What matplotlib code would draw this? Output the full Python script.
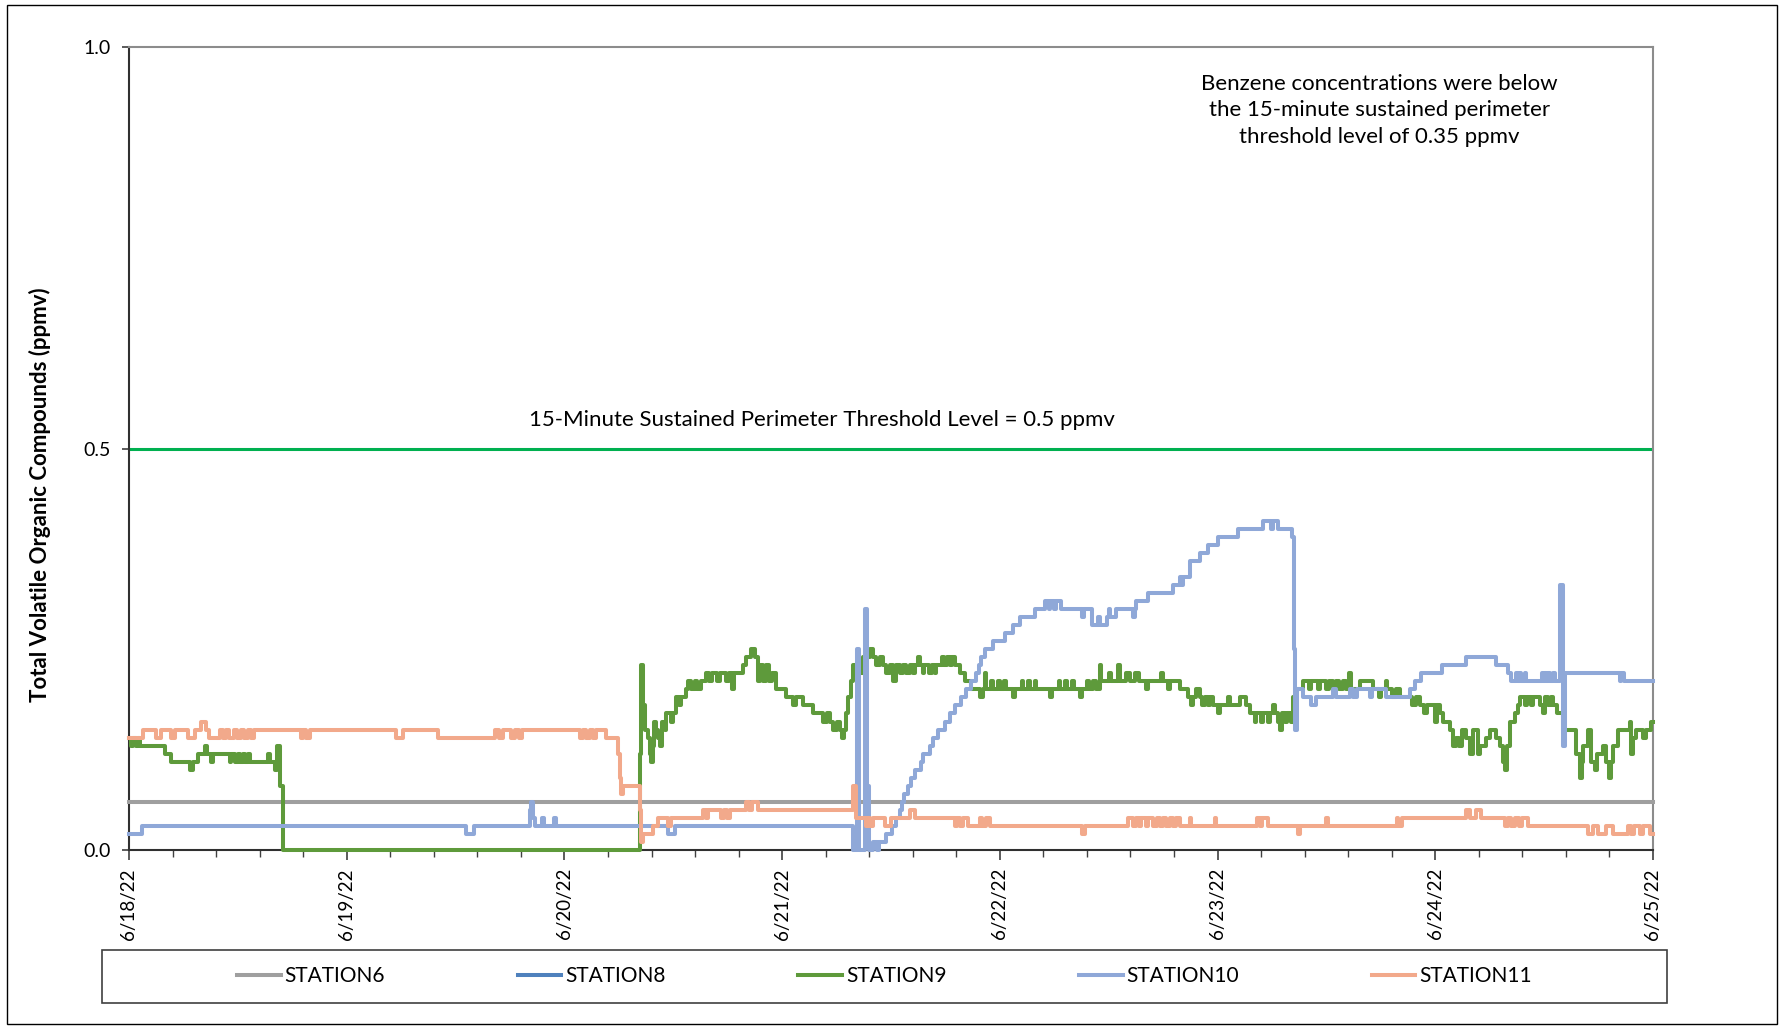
import numpy as np
import matplotlib
matplotlib.use("Agg")
import matplotlib.pyplot as plt
from matplotlib.patches import Rectangle

# readings: (days since 6/18/22 00:00, ppmv), each value holds until the next reading
station6 = [(0.0, 0.06), (7.0, 0.06)]
station8 = []

station9 = [
    (0.000, 0.14), (0.010, 0.13), (0.020, 0.14), (0.030, 0.13), (0.040, 0.14), (0.050, 0.13),
    (0.164, 0.12), (0.195, 0.11), (0.280, 0.10), (0.292, 0.11), (0.317, 0.12), (0.350, 0.13),
    (0.360, 0.12), (0.378, 0.11), (0.388, 0.12), (0.462, 0.11), (0.470, 0.12), (0.485, 0.11),
    (0.500, 0.12), (0.508, 0.11), (0.525, 0.12), (0.532, 0.11), (0.548, 0.12), (0.556, 0.11),
    (0.640, 0.12), (0.648, 0.11), (0.672, 0.10), (0.682, 0.13), (0.695, 0.08), (0.708, 0.00),
    (2.346, 0.12), (2.352, 0.23), (2.362, 0.18), (2.369, 0.15), (2.384, 0.14), (2.392, 0.12),
    (2.399, 0.11), (2.405, 0.13), (2.410, 0.16), (2.422, 0.15), (2.430, 0.14), (2.438, 0.13),
    (2.446, 0.16), (2.461, 0.15), (2.468, 0.17), (2.490, 0.16), (2.499, 0.17), (2.514, 0.19),
    (2.525, 0.18), (2.537, 0.19), (2.560, 0.20), (2.568, 0.21), (2.583, 0.20), (2.598, 0.21),
    (2.610, 0.20), (2.629, 0.21), (2.652, 0.22), (2.665, 0.21), (2.680, 0.22), (2.700, 0.21),
    (2.715, 0.22), (2.740, 0.21), (2.755, 0.22), (2.770, 0.20), (2.778, 0.22), (2.820, 0.23),
    (2.836, 0.24), (2.855, 0.25), (2.875, 0.24), (2.889, 0.21), (2.900, 0.23), (2.912, 0.21),
    (2.925, 0.23), (2.940, 0.21), (2.955, 0.22), (2.974, 0.20), (3.020, 0.19), (3.050, 0.18),
    (3.065, 0.19), (3.095, 0.18), (3.142, 0.17), (3.188, 0.16), (3.205, 0.17), (3.220, 0.16),
    (3.234, 0.15), (3.250, 0.16), (3.264, 0.15), (3.275, 0.14), (3.285, 0.15), (3.295, 0.17),
    (3.303, 0.19), (3.315, 0.21), (3.326, 0.23), (3.356, 0.22), (3.372, 0.24), (3.402, 0.25),
    (3.418, 0.24), (3.433, 0.23), (3.450, 0.24), (3.465, 0.23), (3.479, 0.22), (3.495, 0.23),
    (3.510, 0.21), (3.525, 0.23), (3.540, 0.22), (3.555, 0.23), (3.570, 0.22), (3.586, 0.23),
    (3.602, 0.22), (3.610, 0.23), (3.624, 0.24), (3.632, 0.23), (3.645, 0.22), (3.652, 0.23),
    (3.675, 0.22), (3.690, 0.23), (3.700, 0.22), (3.708, 0.23), (3.732, 0.24), (3.745, 0.23),
    (3.755, 0.24), (3.770, 0.23), (3.780, 0.24), (3.793, 0.23), (3.816, 0.22), (3.839, 0.21),
    (3.869, 0.20), (3.910, 0.19), (3.922, 0.20), (3.930, 0.22), (3.938, 0.20), (3.960, 0.21),
    (3.968, 0.20), (3.990, 0.21), (4.000, 0.20), (4.020, 0.21), (4.028, 0.20), (4.060, 0.19),
    (4.070, 0.20), (4.100, 0.21), (4.108, 0.20), (4.130, 0.21), (4.138, 0.20), (4.160, 0.21),
    (4.168, 0.20), (4.229, 0.19), (4.240, 0.20), (4.270, 0.21), (4.278, 0.20), (4.300, 0.21),
    (4.310, 0.20), (4.330, 0.21), (4.340, 0.20), (4.366, 0.19), (4.376, 0.20), (4.400, 0.21),
    (4.410, 0.20), (4.430, 0.21), (4.440, 0.20), (4.458, 0.23), (4.466, 0.21), (4.500, 0.22),
    (4.510, 0.21), (4.543, 0.23), (4.551, 0.21), (4.580, 0.22), (4.600, 0.21), (4.620, 0.22),
    (4.640, 0.21), (4.673, 0.20), (4.681, 0.21), (4.740, 0.22), (4.750, 0.21), (4.773, 0.20),
    (4.781, 0.21), (4.827, 0.20), (4.865, 0.19), (4.880, 0.18), (4.888, 0.19), (4.903, 0.20),
    (4.918, 0.19), (4.930, 0.18), (4.940, 0.19), (4.955, 0.18), (4.965, 0.19), (4.980, 0.18),
    (5.002, 0.17), (5.010, 0.18), (5.048, 0.19), (5.055, 0.18), (5.102, 0.19), (5.132, 0.18),
    (5.148, 0.17), (5.170, 0.16), (5.178, 0.17), (5.200, 0.16), (5.210, 0.17), (5.230, 0.16),
    (5.240, 0.17), (5.255, 0.18), (5.265, 0.17), (5.278, 0.16), (5.286, 0.15), (5.295, 0.17),
    (5.310, 0.16), (5.320, 0.17), (5.335, 0.16), (5.347, 0.19), (5.362, 0.20), (5.393, 0.21),
    (5.420, 0.20), (5.430, 0.21), (5.460, 0.20), (5.470, 0.21), (5.500, 0.20), (5.510, 0.21),
    (5.531, 0.20), (5.545, 0.21), (5.560, 0.20), (5.575, 0.21), (5.590, 0.20), (5.605, 0.22),
    (5.611, 0.20), (5.653, 0.21), (5.715, 0.20), (5.740, 0.19), (5.750, 0.20), (5.773, 0.21),
    (5.780, 0.20), (5.800, 0.19), (5.820, 0.20), (5.840, 0.19), (5.891, 0.18), (5.910, 0.19),
    (5.929, 0.18), (5.950, 0.17), (5.960, 0.18), (5.998, 0.16), (6.010, 0.18), (6.021, 0.17),
    (6.036, 0.16), (6.067, 0.15), (6.082, 0.13), (6.095, 0.14), (6.110, 0.13), (6.125, 0.15),
    (6.140, 0.14), (6.159, 0.12), (6.174, 0.15), (6.197, 0.12), (6.205, 0.13), (6.235, 0.14),
    (6.251, 0.15), (6.281, 0.14), (6.297, 0.13), (6.310, 0.11), (6.320, 0.10), (6.330, 0.13),
    (6.343, 0.16), (6.366, 0.17), (6.380, 0.18), (6.388, 0.19), (6.410, 0.18), (6.420, 0.19),
    (6.440, 0.18), (6.450, 0.19), (6.480, 0.18), (6.495, 0.17), (6.503, 0.19), (6.520, 0.18),
    (6.530, 0.19), (6.541, 0.18), (6.557, 0.17), (6.587, 0.15), (6.648, 0.12), (6.664, 0.09),
    (6.672, 0.11), (6.679, 0.13), (6.702, 0.15), (6.717, 0.11), (6.733, 0.10), (6.745, 0.12),
    (6.771, 0.13), (6.786, 0.11), (6.798, 0.09), (6.808, 0.11), (6.817, 0.13), (6.840, 0.15),
    (6.893, 0.16), (6.900, 0.12), (6.909, 0.14), (6.924, 0.15), (6.955, 0.14), (6.970, 0.15),
    (6.993, 0.16), (7.000, 0.16),
]

station10 = [
    (0.000, 0.02), (0.061, 0.03), (1.547, 0.02), (1.583, 0.03), (1.840, 0.05), (1.848, 0.06),
    (1.856, 0.04), (1.865, 0.03), (1.895, 0.04), (1.905, 0.03), (1.953, 0.04), (1.963, 0.03),
    (2.475, 0.02), (2.507, 0.03), (3.326, 0.00), (3.345, 0.25), (3.352, 0.00), (3.380, 0.30),
    (3.390, 0.08), (3.397, 0.00), (3.417, 0.01), (3.436, 0.00), (3.445, 0.01), (3.479, 0.02),
    (3.505, 0.03), (3.525, 0.04), (3.540, 0.05), (3.549, 0.06), (3.559, 0.07), (3.579, 0.08),
    (3.594, 0.09), (3.609, 0.10), (3.640, 0.11), (3.648, 0.12), (3.678, 0.13), (3.693, 0.14),
    (3.716, 0.15), (3.747, 0.16), (3.770, 0.17), (3.793, 0.18), (3.823, 0.19), (3.846, 0.20),
    (3.869, 0.21), (3.892, 0.22), (3.905, 0.23), (3.915, 0.24), (3.930, 0.25), (3.968, 0.26),
    (4.022, 0.27), (4.060, 0.28), (4.091, 0.29), (4.160, 0.30), (4.206, 0.31), (4.225, 0.30),
    (4.232, 0.31), (4.250, 0.30), (4.258, 0.31), (4.283, 0.30), (4.375, 0.29), (4.385, 0.30),
    (4.421, 0.28), (4.450, 0.29), (4.460, 0.28), (4.490, 0.29), (4.500, 0.30), (4.508, 0.29),
    (4.535, 0.30), (4.610, 0.29), (4.620, 0.30), (4.627, 0.31), (4.681, 0.32), (4.796, 0.33),
    (4.827, 0.34), (4.835, 0.33), (4.842, 0.34), (4.873, 0.36), (4.918, 0.37), (4.957, 0.38),
    (5.002, 0.39), (5.094, 0.40), (5.209, 0.41), (5.245, 0.40), (5.255, 0.41), (5.278, 0.40),
    (5.340, 0.39), (5.352, 0.25), (5.357, 0.15), (5.366, 0.20), (5.393, 0.19), (5.431, 0.18),
    (5.454, 0.19), (5.531, 0.20), (5.546, 0.19), (5.607, 0.20), (5.620, 0.19), (5.640, 0.20),
    (5.700, 0.19), (5.710, 0.20), (5.775, 0.19), (5.883, 0.20), (5.906, 0.21), (5.936, 0.22),
    (6.029, 0.23), (6.143, 0.24), (6.281, 0.23), (6.335, 0.22), (6.350, 0.21), (6.373, 0.22),
    (6.380, 0.21), (6.388, 0.22), (6.395, 0.21), (6.411, 0.22), (6.418, 0.21), (6.488, 0.22),
    (6.495, 0.21), (6.503, 0.22), (6.510, 0.21), (6.518, 0.22), (6.525, 0.21), (6.541, 0.22),
    (6.548, 0.21), (6.575, 0.33), (6.585, 0.13), (6.595, 0.22), (6.848, 0.21), (6.855, 0.22),
    (6.866, 0.21), (7.000, 0.21),
]

station11 = [
    (0.000, 0.14), (0.065, 0.15), (0.126, 0.14), (0.149, 0.15), (0.195, 0.14), (0.210, 0.15),
    (0.271, 0.14), (0.302, 0.15), (0.333, 0.16), (0.355, 0.15), (0.367, 0.14), (0.417, 0.15),
    (0.430, 0.14), (0.445, 0.15), (0.460, 0.14), (0.480, 0.15), (0.495, 0.14), (0.515, 0.15),
    (0.530, 0.14), (0.545, 0.15), (0.560, 0.14), (0.575, 0.15), (0.792, 0.14), (0.800, 0.15),
    (0.815, 0.14), (0.830, 0.15), (1.228, 0.14), (1.259, 0.15), (1.420, 0.14), (1.680, 0.15),
    (1.700, 0.14), (1.716, 0.15), (1.756, 0.14), (1.772, 0.15), (1.790, 0.14), (1.805, 0.15),
    (2.070, 0.14), (2.085, 0.15), (2.100, 0.14), (2.116, 0.15), (2.131, 0.14), (2.147, 0.15),
    (2.193, 0.14), (2.246, 0.12), (2.255, 0.09), (2.262, 0.07), (2.270, 0.08), (2.346, 0.05),
    (2.352, 0.01), (2.361, 0.02), (2.407, 0.03), (2.430, 0.04), (2.476, 0.03), (2.491, 0.04),
    (2.637, 0.05), (2.650, 0.04), (2.660, 0.05), (2.721, 0.04), (2.735, 0.05), (2.745, 0.04),
    (2.759, 0.05), (2.836, 0.06), (2.850, 0.05), (2.860, 0.06), (2.889, 0.05), (3.326, 0.08),
    (3.340, 0.04), (3.387, 0.03), (3.395, 0.04), (3.405, 0.03), (3.417, 0.04), (3.471, 0.03),
    (3.502, 0.04), (3.586, 0.05), (3.609, 0.04), (3.793, 0.03), (3.805, 0.04), (3.818, 0.03),
    (3.830, 0.04), (3.854, 0.03), (3.908, 0.04), (3.920, 0.03), (3.935, 0.04), (3.954, 0.03),
    (4.375, 0.02), (4.390, 0.03), (4.589, 0.04), (4.612, 0.03), (4.625, 0.04), (4.640, 0.03),
    (4.650, 0.04), (4.670, 0.03), (4.681, 0.04), (4.704, 0.03), (4.720, 0.04), (4.734, 0.03),
    (4.750, 0.04), (4.765, 0.03), (4.780, 0.04), (4.795, 0.03), (4.810, 0.04), (4.827, 0.03),
    (4.873, 0.04), (4.880, 0.03), (4.987, 0.04), (4.995, 0.03), (5.179, 0.04), (5.195, 0.03),
    (5.205, 0.04), (5.232, 0.03), (5.370, 0.02), (5.378, 0.03), (5.500, 0.04), (5.508, 0.03),
    (5.822, 0.04), (5.830, 0.03), (5.845, 0.04), (6.143, 0.05), (6.159, 0.04), (6.189, 0.05),
    (6.212, 0.04), (6.320, 0.03), (6.335, 0.04), (6.350, 0.03), (6.365, 0.04), (6.385, 0.03),
    (6.400, 0.04), (6.427, 0.03), (6.702, 0.02), (6.725, 0.03), (6.748, 0.02), (6.786, 0.03),
    (6.817, 0.02), (6.886, 0.03), (6.900, 0.02), (6.915, 0.03), (6.940, 0.02), (6.955, 0.03),
    (6.985, 0.02), (7.000, 0.02),
]

station_names = ["STATION6", "STATION8", "STATION9", "STATION10", "STATION11"]
station_colors = ["#9f9f9f", "#4f81bd", "#5e9a3b", "#8fa8d8", "#f2a98b"]
date_labels = ["6/18/22", "6/19/22", "6/20/22", "6/21/22", "6/22/22", "6/23/22", "6/24/22", "6/25/22"]

threshold = 0.5
threshold_text = "15-Minute Sustained Perimeter Threshold Level = 0.5 ppmv"
benzene_text = "Benzene concentrations were below\nthe 15-minute sustained perimeter\nthreshold level of 0.35 ppmv"

plt.rcParams['font.family'] = ['Lato', 'DejaVu Sans']

W, H = 1784, 1026
fig = plt.figure(figsize=(W / 100, H / 100), dpi=100)
ax = fig.add_axes([129 / W, 1 - 850 / H, 1524 / W, 803 / H])

# outer chart border and legend box
fig.patches.append(Rectangle((7 / W, 2 / H), 1770 / W, 1019 / H, transform=fig.transFigure,
                             fill=False, edgecolor='black', linewidth=1.0))
fig.patches.append(Rectangle((102 / W, 1 - 1003 / H), 1565 / W, 53 / H, transform=fig.transFigure,
                             fill=False, edgecolor='#404040', linewidth=1.2))

handles = []
for name, color, pts in zip(station_names, station_colors,
                            [station6, station8, station9, station10, station11]):
    days = [p[0] for p in pts]
    vals = [p[1] for p in pts]
    line, = ax.plot(days, vals, color=color, linewidth=2.9, drawstyle='steps-post',
                    label=name, zorder=3, clip_on=False)
    handles.append(line)

ax.axhline(threshold, color='#00b050', linewidth=2.2, zorder=2)
ax.text(3.185, 0.536, threshold_text, ha='center', va='center', fontsize=16, color='black')
ax.text(5.742, 0.921, benzene_text, ha='center', va='center', fontsize=16,
        color='black', linespacing=1.4)

ax.set_xlim(0, 7)
ax.set_ylim(0, 1.0)
ax.set_xticks(range(len(date_labels)))
ax.set_xticklabels(date_labels, rotation=90)
ax.set_xticks(np.arange(0, 7.01, 0.2), minor=True)
ax.set_yticks([0.0, 0.5, 1.0])
ax.set_yticklabels(["0.0", "0.5", "1.0"])
ax.tick_params(axis='x', which='major', length=7, width=1.2, pad=6, labelsize=13.5, color='#404040')
ax.tick_params(axis='x', which='minor', length=5, width=1.0, color='#404040')
ax.tick_params(axis='y', length=5, width=1.2, pad=8, labelsize=14, color='#404040')

for side in ['left', 'bottom']:
    ax.spines[side].set_color('#303030')
    ax.spines[side].set_linewidth(1.5)
for side in ['top', 'right']:
    ax.spines[side].set_color('#8c8c8c')
    ax.spines[side].set_linewidth(1.5)

ax.set_ylabel("Total Volatile Organic Compounds (ppmv)", fontsize=16, fontweight='bold')
ax.yaxis.set_label_coords(-0.051, 0.443)

fig.legend(handles=handles, labels=station_names, loc='center', ncol=5, frameon=False,
           bbox_to_anchor=(884.5 / W, 1 - 976.5 / H), fontsize=15, handlelength=2.1,
           handletextpad=0.2, columnspacing=6.35)

fig.savefig("out.png", dpi=100)
